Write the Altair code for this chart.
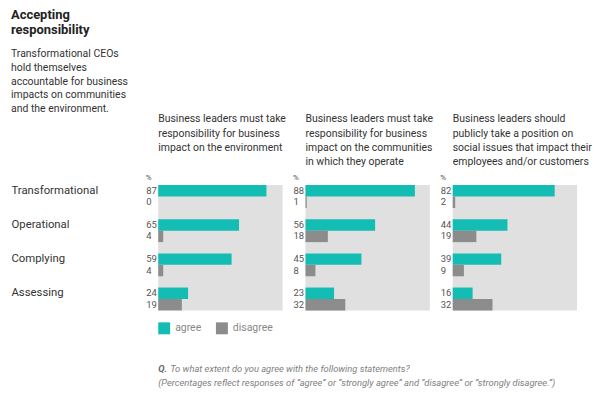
import altair as alt
import pandas as pd

FONT = "Roboto"

groups = ["Transformational", "Operational", "Complying", "Assessing"]
responses = ["agree", "disagree"]

env_agree = [87, 65, 59, 24]
env_disagree = [0, 4, 4, 19]
comm_agree = [88, 56, 45, 23]
comm_disagree = [1, 18, 8, 32]
social_agree = [82, 44, 39, 16]
social_disagree = [2, 19, 9, 32]

statements = [
    "Business leaders must take\nresponsibility for business\nimpact on the environment",
    "Business leaders must take\nresponsibility for business\nimpact on the communities\nin which they operate",
    "Business leaders should\npublicly take a position on\nsocial issues that impact their\nemployees and/or customers",
]

title_text = "Accepting\nresponsibility"
subtitle_text = ("Transformational CEOs\nhold themselves\naccountable for business\n"
                 "impacts on communities\nand the environment.")
q_label = "Q."
question = "To what extent do you agree with the following statements?"
note = ("(Percentages reflect responses of \u201cagree\u201d or \u201cstrongly agree\u201d "
        "and \u201cdisagree\u201d or \u201cstrongly disagree.\u201d)")

colors = ["#13bdb4", "#8c8c8c"]


def one_row(t):
    return alt.Chart(pd.DataFrame({"t": [t]}))


def panel(idx, agree, disagree):
    rows = []
    for g, a, d in zip(groups, agree, disagree):
        rows.append({"group": g, "response": "agree", "value": a})
        rows.append({"group": g, "response": "disagree", "value": d})
    df = pd.DataFrame(rows)
    base = alt.Chart(df)
    y = alt.Y("group:N", sort=groups, axis=None,
              scale=alt.Scale(paddingInner=0.33, paddingOuter=0))
    yo = alt.YOffset("response:N", sort=responses)
    bars = base.mark_bar().encode(
        x=alt.X("value:Q", scale=alt.Scale(domain=[0, 100]), axis=None),
        y=y,
        yOffset=yo,
        color=alt.Color(
            "response:N",
            scale=alt.Scale(domain=responses, range=colors),
            legend=alt.Legend(
                orient="none", legendX=0, legendY=138, direction="horizontal",
                title=None, symbolType="square", symbolSize=144,
                symbolStrokeWidth=0, labelFont=FONT, labelFontSize=10.5,
                labelColor="#888888", columnPadding=14, labelOffset=5,
                padding=0,
            ),
        ),
    )
    nums = base.mark_text(align="left", baseline="middle", font=FONT,
                          fontSize=9.5, color="#555555").encode(
        x=alt.value(-12), y=y, yOffset=yo, text="value:Q")
    pct = one_row("%").mark_text(align="left", baseline="middle", font=FONT,
                                 fontSize=8, color="#555555").encode(
        x=alt.value(-12.5), y=alt.value(-7.5), text="t:N")
    head = one_row(statements[idx]).mark_text(
        align="left", baseline="alphabetic", lineBreak="\n", lineHeight=14.2,
        font=FONT, fontSize=10.5, color="#333333").encode(
        x=alt.value(0), y=alt.value(-63), text="t:N")
    layers = [bars, nums, pct, head]
    if idx == 0:
        labels = base.transform_filter(alt.datum.response == "agree").mark_text(
            align="left", baseline="middle", font=FONT, fontSize=11.4,
            color="#333333").encode(
            x=alt.value(-147.5), y=y, yOffset=yo, text="group:N")
        title = one_row(title_text).mark_text(
            align="left", baseline="alphabetic", lineBreak="\n", lineHeight=15,
            font=FONT, fontSize=13, fontWeight="bold", color="#222222").encode(
            x=alt.value(-148), y=alt.value(-166.6), text="t:N")
        sub = one_row(subtitle_text).mark_text(
            align="left", baseline="alphabetic", lineBreak="\n", lineHeight=13.7,
            font=FONT, fontSize=10.5, color="#333333").encode(
            x=alt.value(-148), y=alt.value(-128.3), text="t:N")
        q = one_row(q_label).mark_text(
            align="left", baseline="alphabetic", font=FONT, fontSize=9.4,
            fontStyle="italic", fontWeight="bold", color="#666666").encode(
            x=alt.value(0), y=alt.value(188.3), text="t:N")
        qt = one_row(question).mark_text(
            align="left", baseline="alphabetic", font=FONT, fontSize=9.4,
            fontStyle="italic", color="#808080").encode(
            x=alt.value(12), y=alt.value(188.3), text="t:N")
        nt = one_row(note).mark_text(
            align="left", baseline="alphabetic", font=FONT, fontSize=9.4,
            fontStyle="italic", color="#808080").encode(
            x=alt.value(0), y=alt.value(201.7), text="t:N")
        layers += [labels, title, sub, q, qt, nt]
    return alt.layer(*layers).properties(width=125, height=126)


chart = alt.hconcat(
    panel(0, env_agree, env_disagree),
    panel(1, comm_agree, comm_disagree),
    panel(2, social_agree, social_disagree),
    spacing=23,
    bounds="flush",
).properties(
    padding={"left": 3, "top": 0, "right": 0, "bottom": 0},
    background="white",
).configure_view(fill="#e0e0e0", strokeWidth=0)

chart.save("out.html", embed_options={"renderer": "svg", "actions": False})
